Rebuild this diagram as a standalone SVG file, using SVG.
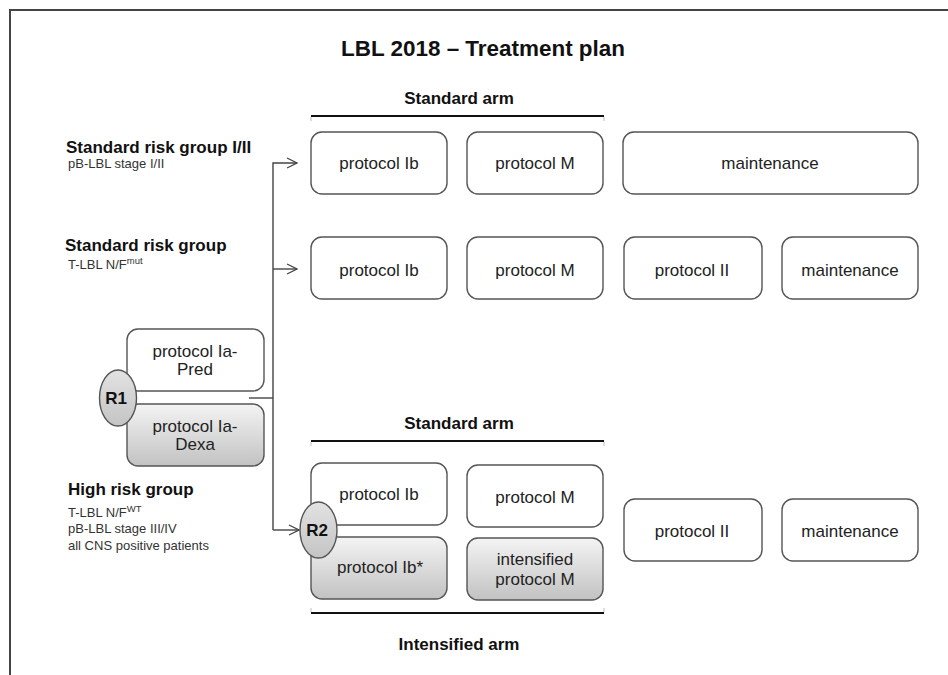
<svg xmlns="http://www.w3.org/2000/svg" width="948" height="675" viewBox="0 0 948 675">
  <defs>
    <linearGradient id="greyFill" x1="0" y1="0" x2="0" y2="1">
      <stop offset="0" stop-color="#f4f4f4"/>
      <stop offset="1" stop-color="#c2c2c2"/>
    </linearGradient>
    <linearGradient id="randFill" x1="0" y1="0" x2="0" y2="1">
      <stop offset="0" stop-color="#e2e2e2"/>
      <stop offset="1" stop-color="#c4c4c4"/>
    </linearGradient>
    <marker id="openArrow" viewBox="0 0 12 12" refX="11" refY="6" markerWidth="12" markerHeight="12" markerUnits="userSpaceOnUse" orient="auto">
      <path d="M1,1 L11,6 L1,11" fill="none" stroke="#444" stroke-width="1.3"/>
    </marker>
    <style>
      .frame { fill: none; stroke: #444; stroke-width: 2; }
      .box { fill: #fff; stroke: #555; stroke-width: 1.4; }
      .box.grey { fill: url(#greyFill); }
      .rand { fill: url(#randFill); stroke: #555; stroke-width: 1.4; }
      .bar { stroke: #111; stroke-width: 2; }
      .tick { stroke: #c8c8c8; stroke-width: 1.2; }
      .link { fill: none; stroke: #444; stroke-width: 1.4; }
      text { font-family: "Liberation Sans", Arial, sans-serif; fill: #222; }
      .title { font-size: 22px; font-weight: bold; text-anchor: middle; fill: #111; }
      .arm { font-size: 17px; font-weight: bold; text-anchor: middle; fill: #111; }
      .group { font-size: 17px; font-weight: bold; fill: #111; }
      .sub { font-size: 13px; fill: #333; }
      .sup { font-size: 9.5px; }
      .lbl { font-size: 17px; text-anchor: middle; fill: #222; }
      .rlbl { font-size: 17px; font-weight: bold; text-anchor: middle; fill: #111; }
    </style>
  </defs>

  <!-- page frame -->
  <path class="frame" d="M10,675 V10 H948"/>

  <text class="title" x="483" y="56" textLength="284" lengthAdjust="spacingAndGlyphs">LBL 2018 – Treatment plan</text>

  <!-- arm brackets -->
  <g id="arm-standard-top">
    <text class="arm" x="459" y="104">Standard arm</text>
    <line class="bar" x1="311" y1="116" x2="604" y2="116"/>
    <line class="tick" x1="311" y1="117" x2="311" y2="121"/>
    <line class="tick" x1="604" y1="117" x2="604" y2="121"/>
  </g>
  <g id="arm-standard-bottom">
    <text class="arm" x="459" y="429">Standard arm</text>
    <line class="bar" x1="311" y1="441" x2="604" y2="441"/>
    <line class="tick" x1="311" y1="442" x2="311" y2="446"/>
    <line class="tick" x1="604" y1="442" x2="604" y2="446"/>
  </g>
  <g id="arm-intensified">
    <line class="bar" x1="311" y1="613" x2="604" y2="613"/>
    <line class="tick" x1="311" y1="608" x2="311" y2="612"/>
    <line class="tick" x1="604" y1="608" x2="604" y2="612"/>
    <text class="arm" x="459" y="650">Intensified arm</text>
  </g>

  <!-- risk groups -->
  <g id="group-sr-12">
    <text class="group" x="66" y="153">Standard risk group I/II</text>
    <text class="sub" x="68" y="168">pB-LBL stage I/II</text>
  </g>
  <g id="group-sr">
    <text class="group" x="65" y="251">Standard risk group</text>
    <text class="sub" x="68" y="269">T-LBL N/F<tspan class="sup" dy="-5">mut</tspan></text>
  </g>
  <g id="group-hr">
    <text class="group" x="68" y="495">High risk group</text>
    <text class="sub" x="68" y="517">T-LBL N/F<tspan class="sup" dy="-5">WT</tspan></text>
    <text class="sub" x="68" y="533">pB-LBL stage III/IV</text>
    <text class="sub" x="68" y="550">all CNS positive patients</text>
  </g>

  <!-- connectors -->
  <g id="connectors">
    <path class="link" d="M249,398 H273"/>
    <path class="link" d="M273,530 V163 H297" marker-end="url(#openArrow)"/>
    <path class="link" d="M273,269 H297" marker-end="url(#openArrow)"/>
    <path class="link" d="M273,530 H299" marker-end="url(#openArrow)"/>
  </g>

  <!-- induction -->
  <g id="ia-pred">
    <rect class="box" x="127" y="329" width="137" height="62" rx="11"/>
    <text class="lbl" x="195" y="357">protocol Ia-</text>
    <text class="lbl" x="195" y="375">Pred</text>
  </g>
  <g id="ia-dexa">
    <rect class="box grey" x="127" y="404" width="137" height="62" rx="11"/>
    <text class="lbl" x="195" y="432">protocol Ia-</text>
    <text class="lbl" x="195" y="450">Dexa</text>
  </g>
  <g id="r1">
    <ellipse class="rand" cx="118" cy="398" rx="18.5" ry="28"/>
    <text class="rlbl" x="116" y="404">R1</text>
  </g>

  <!-- standard risk I/II row -->
  <g id="sr12-ib">
    <rect class="box" x="311" y="132" width="136" height="62" rx="11"/>
    <text class="lbl" x="379" y="169">protocol Ib</text>
  </g>
  <g id="sr12-m">
    <rect class="box" x="467" y="132" width="136" height="62" rx="11"/>
    <text class="lbl" x="535" y="169">protocol M</text>
  </g>
  <g id="sr12-maint">
    <rect class="box" x="623" y="132" width="295" height="62" rx="11"/>
    <text class="lbl" x="770" y="169">maintenance</text>
  </g>

  <!-- standard risk row -->
  <g id="sr-ib">
    <rect class="box" x="311" y="237" width="136" height="62" rx="11"/>
    <text class="lbl" x="379" y="276">protocol Ib</text>
  </g>
  <g id="sr-m">
    <rect class="box" x="467" y="237" width="136" height="62" rx="11"/>
    <text class="lbl" x="535" y="276">protocol M</text>
  </g>
  <g id="sr-ii">
    <rect class="box" x="624" y="237" width="138" height="62" rx="11"/>
    <text class="lbl" x="692" y="276">protocol II</text>
  </g>
  <g id="sr-maint">
    <rect class="box" x="782" y="237" width="136" height="62" rx="11"/>
    <text class="lbl" x="850" y="276">maintenance</text>
  </g>

  <!-- high risk rows -->
  <g id="hr-ib">
    <rect class="box" x="311" y="463" width="136" height="62" rx="11"/>
    <text class="lbl" x="379" y="500">protocol Ib</text>
  </g>
  <g id="hr-m">
    <rect class="box" x="467" y="465" width="136" height="62" rx="11"/>
    <text class="lbl" x="535" y="503">protocol M</text>
  </g>
  <g id="hr-ib-star">
    <rect class="box grey" x="311" y="537" width="136" height="62" rx="11"/>
    <text class="lbl" x="380" y="573">protocol Ib*</text>
  </g>
  <g id="hr-m-int">
    <rect class="box grey" x="467" y="538" width="136" height="62" rx="11"/>
    <text class="lbl" x="535" y="565">intensified</text>
    <text class="lbl" x="535" y="585">protocol M</text>
  </g>
  <g id="r2">
    <ellipse class="rand" cx="318.5" cy="530" rx="18.5" ry="28"/>
    <text class="rlbl" x="317" y="536">R2</text>
  </g>
  <g id="hr-ii">
    <rect class="box" x="624" y="499" width="138" height="62" rx="11"/>
    <text class="lbl" x="692" y="537">protocol II</text>
  </g>
  <g id="hr-maint">
    <rect class="box" x="782" y="499" width="136" height="62" rx="11"/>
    <text class="lbl" x="850" y="537">maintenance</text>
  </g>
</svg>
